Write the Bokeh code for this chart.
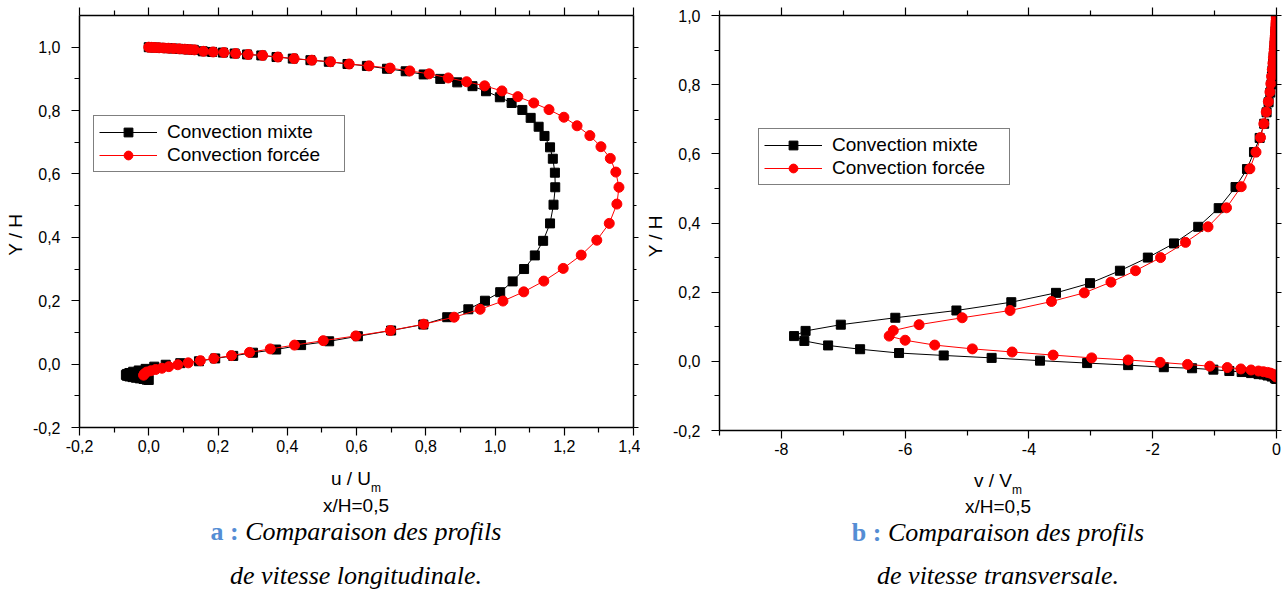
from bokeh.embed import file_html
from bokeh.layouts import column, row
from bokeh.models import (ColumnDataSource, CustomJSTickFormatter, Div, FixedTicker,
                          Legend, LegendItem, LinearAxis, Range1d)
from bokeh.plotting import figure
from bokeh.resources import INLINE

# ---------------------------------------------------------------------------
# Profiles at x/H = 0,5
# ---------------------------------------------------------------------------
SERIES_LABELS = ["Convection mixte", "Convection forcée"]

# longitudinal velocity u/Um -- mixed convection
y_u_mixte = [1.0, 0.9995, 0.9989, 0.9982, 0.9975, 0.9967, 0.9958, 0.9948, 0.9937, 0.9926,
             0.9916, 0.987, 0.985, 0.983, 0.98, 0.977, 0.974, 0.969, 0.964, 0.959,
             0.954, 0.947, 0.941,
             0.932, 0.924, 0.914, 0.900, 0.889, 0.877, 0.861, 0.842, 0.824, 0.802,
             0.777, 0.749, 0.720, 0.684, 0.648, 0.604, 0.558, 0.503, 0.444, 0.389,
             0.343, 0.300, 0.261, 0.227, 0.200, 0.173, 0.148, 0.125, 0.106, 0.088,
             0.072, 0.060, 0.046, 0.036, 0.026, 0.018, 0.009, 0.003, -0.002, -0.008,
             -0.015, -0.020, -0.024, -0.028, -0.031, -0.034, -0.037, -0.039, -0.041, -0.043,
             -0.045, -0.047, -0.049, -0.050]
u_mixte = [0.0, 0.008, 0.018, 0.029, 0.042, 0.056, 0.070, 0.086, 0.102, 0.116,
           0.130, 0.156, 0.183, 0.214, 0.248, 0.284, 0.325, 0.369, 0.416, 0.467,
           0.520, 0.574, 0.630,
           0.688, 0.742, 0.794, 0.842, 0.891, 0.935, 0.974, 1.014, 1.048, 1.079,
           1.103, 1.126, 1.143, 1.159, 1.167, 1.173, 1.174, 1.169, 1.159, 1.139,
           1.115, 1.084, 1.051, 1.015, 0.971, 0.923, 0.862, 0.793, 0.700, 0.604,
           0.521, 0.440, 0.368, 0.301, 0.244, 0.192, 0.145, 0.091, 0.049, 0.016,
           -0.009, -0.029, -0.045, -0.056, -0.063, -0.066, -0.063, -0.056, -0.047, -0.037,
           -0.026, -0.015, -0.006, 0.0]

# longitudinal velocity u/Um -- forced convection
y_u_forcee = [1.0, 0.9995, 0.9989, 0.9982, 0.9975, 0.9967, 0.9958, 0.9948, 0.9937, 0.9926,
              0.9916, 0.987, 0.985, 0.983, 0.98, 0.977, 0.974, 0.969, 0.964, 0.959,
              0.954, 0.947, 0.941,
              0.934, 0.925, 0.916, 0.903, 0.891, 0.878, 0.862, 0.844, 0.824, 0.803,
              0.779, 0.752, 0.721, 0.686, 0.649, 0.606, 0.558, 0.505, 0.444, 0.391,
              0.344, 0.302, 0.262, 0.228, 0.199, 0.173, 0.148, 0.126, 0.106, 0.089,
              0.074, 0.060, 0.048, 0.037, 0.027, 0.018, 0.011, 0.004, -0.002, -0.008,
              -0.013, -0.017, -0.021, -0.025, -0.031, -0.035]
u_forcee = [0.0, 0.008, 0.018, 0.030, 0.043, 0.057, 0.072, 0.088, 0.104, 0.118,
            0.132, 0.158, 0.186, 0.217, 0.251, 0.287, 0.329, 0.373, 0.420, 0.471,
            0.525, 0.579, 0.636,
            0.697, 0.754, 0.810, 0.865, 0.918, 0.970, 1.020, 1.066, 1.112, 1.156,
            1.199, 1.237, 1.274, 1.306, 1.333, 1.349, 1.358, 1.352, 1.330, 1.294,
            1.249, 1.197, 1.141, 1.083, 1.023, 0.957, 0.882, 0.794, 0.698, 0.598,
            0.504, 0.421, 0.351, 0.291, 0.239, 0.188, 0.149, 0.114, 0.084, 0.058,
            0.038, 0.020, 0.006, -0.006, -0.013, -0.015]

# transverse velocity v/Vm -- mixed convection
y_v_mixte = [1.0, 0.9995, 0.9989, 0.9982, 0.9975, 0.9967, 0.9958, 0.9948, 0.9937, 0.9926,
             0.9916, 0.987, 0.985, 0.983, 0.98, 0.977, 0.974, 0.969, 0.964, 0.959,
             0.954, 0.947, 0.941,
             0.932, 0.924, 0.914, 0.900, 0.889, 0.877, 0.861, 0.842, 0.824, 0.801,
             0.777, 0.749, 0.720, 0.687, 0.646, 0.605, 0.556, 0.504, 0.443, 0.389,
             0.341, 0.300, 0.262, 0.226, 0.198, 0.171, 0.147, 0.126, 0.106, 0.088,
             0.073, 0.059, 0.046, 0.035, 0.024, 0.017, 0.010, 0.002, -0.005, -0.011,
             -0.017, -0.020, -0.024, -0.028, -0.031, -0.034, -0.037, -0.038, -0.041, -0.044,
             -0.049, -0.051]
v_mixte = [0.0, -0.0002, -0.0004, -0.0006, -0.0008, -0.001, -0.0012, -0.0014, -0.0016, -0.0018,
           -0.002, -0.003, -0.0035, -0.004, -0.005, -0.006, -0.007, -0.008, -0.009, -0.011,
           -0.013, -0.016, -0.019,
           -0.022, -0.026, -0.030, -0.036, -0.041, -0.047, -0.055, -0.065, -0.074, -0.082,
           -0.100, -0.128, -0.160, -0.199, -0.272, -0.364, -0.477, -0.662, -0.934, -1.265,
           -1.656, -2.079, -2.530, -3.013, -3.563, -4.285, -5.172, -6.159, -7.040, -7.609,
           -7.795, -7.629, -7.245, -6.728, -6.099, -5.377, -4.603, -3.821, -3.060, -2.397,
           -1.821, -1.364, -1.020, -0.762, -0.563, -0.411, -0.291, -0.212, -0.146, -0.079,
           -0.026, -0.005]

# transverse velocity v/Vm -- forced convection
y_v_forcee = [1.0, 0.9995, 0.9989, 0.9982, 0.9975, 0.9967, 0.9958, 0.9948, 0.9937, 0.9926,
              0.9916, 0.987, 0.985, 0.983, 0.98, 0.977, 0.974, 0.969, 0.964, 0.959,
              0.954, 0.947, 0.941,
              0.934, 0.925, 0.916, 0.903, 0.891, 0.878, 0.862, 0.844, 0.824, 0.803,
              0.779, 0.751, 0.721, 0.687, 0.647, 0.605, 0.557, 0.505, 0.444, 0.389,
              0.344, 0.300, 0.262, 0.229, 0.198, 0.173, 0.147, 0.126, 0.106, 0.089,
              0.073, 0.061, 0.047, 0.036, 0.027, 0.018, 0.010, 0.004, -0.003, -0.009,
              -0.014, -0.018, -0.022, -0.025, -0.028, -0.030, -0.032, -0.034, -0.037, -0.040,
              -0.045]
v_forcee = [0.0, -0.0002, -0.0004, -0.0006, -0.0008, -0.001, -0.0012, -0.0014, -0.0016, -0.0018,
            -0.002, -0.003, -0.0035, -0.004, -0.005, -0.006, -0.007, -0.008, -0.010, -0.012,
            -0.014, -0.017, -0.020,
            -0.023, -0.027, -0.031, -0.037, -0.043, -0.050, -0.058, -0.068, -0.080, -0.092,
            -0.106, -0.132, -0.166, -0.205, -0.258, -0.331, -0.430, -0.570, -0.808, -1.106,
            -1.470, -1.874, -2.278, -2.675, -3.106, -3.636, -4.305, -5.079, -5.775, -6.192,
            -6.258, -6.000, -5.523, -4.914, -4.272, -3.609, -2.987, -2.397, -1.881, -1.437,
            -1.079, -0.795, -0.576, -0.411, -0.291, -0.212, -0.146, -0.099, -0.060, -0.026,
            -0.007]

# axis ticks
u_ticks = [-0.2, 0.0, 0.2, 0.4, 0.6, 0.8, 1.0, 1.2, 1.4]
u_minor = [-0.1, 0.1, 0.3, 0.5, 0.7, 0.9, 1.1, 1.3]
v_ticks = [-8, -6, -4, -2, 0]
v_minor = [-9, -7, -5, -3, -1]
yh_ticks = [-0.2, 0.0, 0.2, 0.4, 0.6, 0.8, 1.0]
yh_minor = [-0.1, 0.1, 0.3, 0.5, 0.7, 0.9]

SANS = "Liberation Sans"
SERIF = "Liberation Serif"
CAPTION_BLUE = "#548DD4"
NBSP = "\u00a0"

fmt_1 = CustomJSTickFormatter(code="return tick.toFixed(1).replace('.', ',');")
fmt_0 = CustomJSTickFormatter(code="return tick.toFixed(0);")


def style_axis(ax, ticks, minor, formatter, labels=True, tick_out=8, minor_out=5, standoff=5):
    ax.ticker = FixedTicker(ticks=ticks, minor_ticks=minor)
    ax.formatter = formatter if labels else CustomJSTickFormatter(code="return '';")
    ax.axis_line_color = "black"
    ax.axis_line_width = 1.5
    ax.major_tick_line_color = "black"
    ax.minor_tick_line_color = "black"
    ax.major_tick_line_width = 1.2
    ax.minor_tick_line_width = 1.2
    ax.major_tick_in = 0
    ax.minor_tick_in = 0
    ax.major_tick_out = tick_out
    ax.minor_tick_out = minor_out
    ax.major_label_text_font = SANS
    ax.major_label_text_font_size = "16px"
    ax.major_label_text_color = "black"
    ax.major_label_standoff = standoff if labels else 0


def make_panel(xr, yr, fw, fh, left, right, bottom, xt, xm, xfmt):
    p = figure(x_range=Range1d(*xr), y_range=Range1d(*yr),
               frame_width=fw, frame_height=fh,
               min_border_left=left, min_border_right=right,
               min_border_top=15, min_border_bottom=bottom,
               output_backend="svg", toolbar_location=None)
    p.xgrid.visible = False
    p.ygrid.visible = False
    p.outline_line_color = None
    p.background_fill_color = "white"
    p.border_fill_color = "white"
    style_axis(p.xaxis[0], xt, xm, xfmt, standoff=4)
    yax = p.yaxis[0]
    style_axis(yax, yh_ticks, yh_minor, fmt_1, standoff=11)
    # trailing no-break spaces push the rotated title slightly below the frame centre
    yax.axis_label = "Y / H" + NBSP * 5
    yax.axis_label_text_font = SANS
    yax.axis_label_text_font_size = "19px"
    yax.axis_label_text_font_style = "normal"
    yax.axis_label_text_color = "black"
    yax.axis_label_standoff = 4
    top = LinearAxis()
    style_axis(top, xt, xm, xfmt, labels=False)
    p.add_layout(top, "above")
    rgt = LinearAxis()
    style_axis(rgt, yh_ticks, yh_minor, fmt_1, labels=False, tick_out=5, minor_out=3)
    p.add_layout(rgt, "right")
    return p


def draw_profiles(p, x_m, y_m, x_f, y_f, legend_loc):
    src_m = ColumnDataSource(dict(x=x_m, y=y_m))
    src_f = ColumnDataSource(dict(x=x_f, y=y_f))
    lm = p.line("x", "y", source=src_m, line_color="black", line_width=1)
    sm = p.scatter("x", "y", source=src_m, marker="square", size=9,
                   fill_color="black", line_color="black")
    lf = p.line("x", "y", source=src_f, line_color="#ff0000", line_width=1)
    sf = p.scatter("x", "y", source=src_f, marker="circle", size=10,
                   fill_color="#ff0000", line_color="#ff0000")
    legend = Legend(items=[LegendItem(label=SERIES_LABELS[0], renderers=[lm, sm]),
                           LegendItem(label=SERIES_LABELS[1], renderers=[lf, sf])],
                    location=legend_loc, padding=5, spacing=1, margin=0,
                    glyph_width=58, glyph_height=22, label_height=22,
                    label_width=172, label_standoff=10,
                    label_text_font=SANS, label_text_font_size="19px",
                    label_text_color="black",
                    border_line_color="black", border_line_width=1,
                    background_fill_color="white", background_fill_alpha=1.0)
    p.add_layout(legend)


def caption_block(width, cx, var, letter, line2, tops):
    """Axis title, station and figure caption drawn under one panel."""
    t_var, t_st, t_c1, t_c2 = tops
    sans = f"font-family:{SANS};font-size:19px;line-height:19px;"
    serif = f"font-family:{SERIF};font-size:26px;line-height:26px;font-style:italic;"
    box = ("position:absolute;width:400px;margin:0;padding:0;text-align:center;"
           "white-space:nowrap;color:black;")
    left = cx - 200
    html = (
        f'<div style="position:relative;width:{width}px;height:130px;overflow:hidden;">'
        f'<div style="{box}{sans}left:{left}px;top:{t_var}px;">{var}'
        f'<span style="font-size:12px;position:relative;top:7px;">m</span></div>'
        f'<div style="{box}{sans}left:{left}px;top:{t_st}px;">x/H=0,5</div>'
        f'<div style="{box}{serif}left:{left}px;top:{t_c1}px;">'
        f'<span style="color:{CAPTION_BLUE};font-weight:bold;font-style:normal;">{letter} :</span>'
        f' Comparaison des profils</div>'
        f'<div style="{box}{serif}left:{left}px;top:{t_c2}px;">{line2}</div>'
        f'</div>'
    )
    return Div(text=html, width=width, height=130, margin=0)


# (a) longitudinal velocity
pa = make_panel((-0.2, 1.4), (-0.2, 1.1), 554, 412, 79, 7, 35, u_ticks, u_minor, fmt_1)
draw_profiles(pa, u_mixte, y_u_mixte, u_forcee, y_u_forcee, (14, 255))
cap_a = caption_block(640, 356, "u / U", "a", "de vitesse longitudinale.",
                      (7, 34, 57, 101))

# (b) transverse velocity
pb = make_panel((-9, 0), (-0.2, 1.0), 557, 415, 79, 6, 32, v_ticks, v_minor, fmt_0)
draw_profiles(pb, v_mixte, y_v_mixte, v_forcee, y_v_forcee, (39, 245))
cap_b = caption_block(642, 358, "v / V", "b", "de vitesse transversale.",
                      (8.5, 34.5, 58, 101))

layout = row(column(pa, cap_a, spacing=0), column(pb, cap_b, spacing=0), spacing=0)
open("out.html", "w").write(file_html(layout, INLINE))
